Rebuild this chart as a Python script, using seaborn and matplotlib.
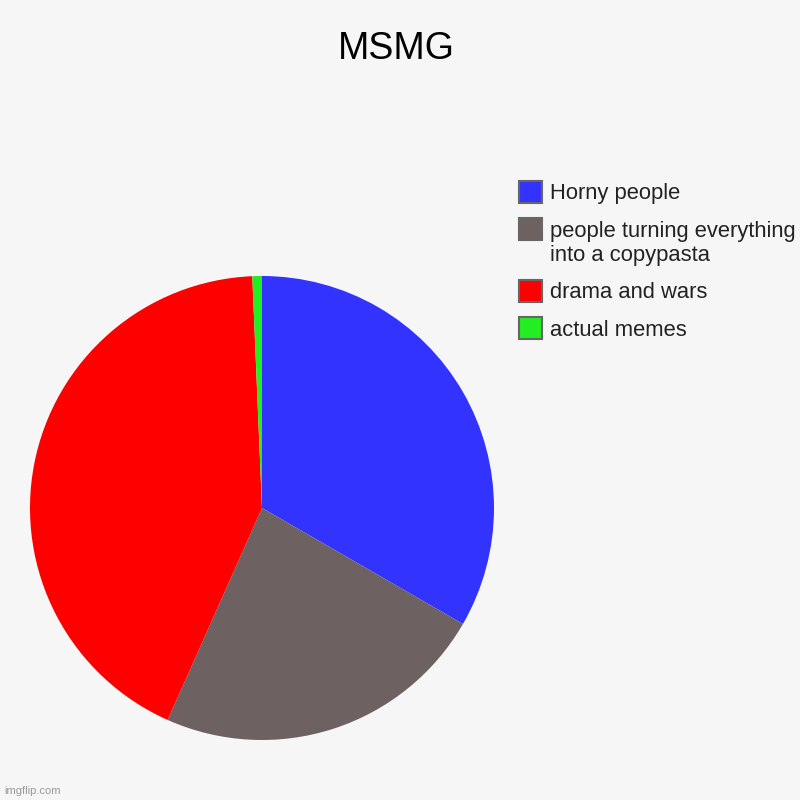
import matplotlib
matplotlib.use("Agg")
import matplotlib.pyplot as plt
from matplotlib.patches import Rectangle
import seaborn as sns

categories = ["Horny people", "people turning everything\ninto a copypasta", "drama and wars", "actual memes"]
values = [50, 35, 64, 1]
colors = ["#3333ff", "#6d6261", "#ff0000", "#22ee22"]

sns.set_style("white")
plt.rcParams['font.family'] = ['Liberation Sans', 'DejaVu Sans']

bg = "#f6f6f6"
W = H = 800
fig = plt.figure(figsize=(8, 8), dpi=100, facecolor=bg)
ax = fig.add_axes([0.0375, 0.075, 0.58, 0.58])
ax.set_facecolor(bg)
ax.pie(values, colors=colors, startangle=90, counterclock=False,
       wedgeprops=dict(linewidth=0), radius=1)
ax.set_xlim(-1, 1)
ax.set_ylim(-1, 1)
ax.set_aspect('equal')
ax.axis('off')

fig.text(0.495, 0.939, "MSMG", ha='center', va='center', fontsize=27, color='#000000')

# legend drawn manually (pixel layout converted to figure fraction)
y = 192
for cat, col in zip(categories, colors):
    lines = cat.split("\n")
    fig.patches.append(Rectangle((519 / W, 1 - (y + 11) / H), 23 / W, 22 / H,
                                 transform=fig.transFigure, facecolor=col,
                                 edgecolor='#666666', linewidth=1.5))
    for k, ln in enumerate(lines):
        fig.text(550 / W, 1 - (y + 2 + 25 * k) / H, ln, ha='left', va='center',
                 fontsize=15.8, color='#222222')
    y += 37 + 25 * (len(lines) - 1)

fig.text(0.005, 0.011, "imgflip.com", fontsize=8, color='#999999', ha='left', va='center')

fig.savefig("out.png", dpi=100, facecolor=bg)
